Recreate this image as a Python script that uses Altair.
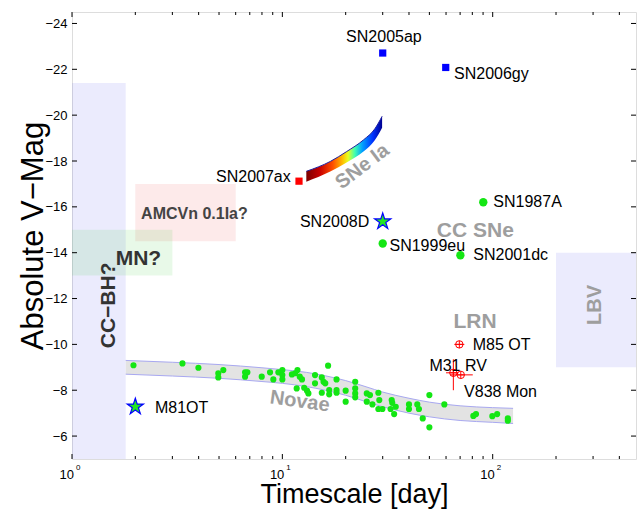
import altair as alt
import pandas as pd

# ---------------- data ----------------
# Novae (timescale [day], absolute V mag)
nova_t = [1.96, 3.35, 3.99, 4.96, 5.24, 4.96, 6.65, 6.82, 6.65, 7.98,
          8.74, 9.06, 9.57, 10.0, 10.0, 10.0, 11.1, 11.5, 11.8, 12.1,
          12.4, 11.7, 12.7, 13.1, 13.3, 14.3, 14.3, 15.4, 15.7, 16.0,
          15.4, 16.5, 16.7, 16.7, 18.1, 18.1, 18.1, 20.0, 20.0, 22.2,
          22.2, 22.2, 22.2, 25.2, 25.2, 26.1, 26.8, 28.6, 28.9, 28.6,
          29.9, 33.1, 33.3, 34.6, 32.7, 34.0, 40.0, 40.0, 43.8, 44.6,
          46.5, 50.0, 50.0, 58.9, 80.9, 83.3, 99.6, 105.0, 118.0, 118.0]
nova_m = [-9.09, -9.17, -8.98, -8.74, -8.88, -8.56, -8.78, -8.78, -8.59, -8.59,
          -8.78, -8.47, -8.78, -8.88, -8.66, -8.47, -8.69, -8.74, -8.88, -8.59,
          -8.47, -8.08, -8.11, -7.98, -7.86, -8.66, -8.30, -8.56, -8.37, -8.30,
          -7.89, -9.07, -8.01, -7.82, -8.47, -8.01, -7.89, -7.98, -7.50, -8.37,
          -8.08, -7.86, -7.69, -7.86, -7.50, -7.79, -7.38, -7.89, -7.57, -7.18,
          -7.18, -7.57, -7.45, -7.28, -7.18, -6.96, -7.38, -7.18, -7.38, -7.18,
          -6.77, -7.79, -6.38, -7.38, -6.88, -6.96, -6.87, -6.96, -6.77, -6.67]

# Novae band
band_t = [1.8, 3, 5, 8, 10, 13, 16, 20, 25, 30, 40, 50, 70, 100, 125]
band_up = [-9.30, -9.22, -9.12, -8.98, -8.90, -8.78, -8.63, -8.42, -8.15, -7.92,
           -7.65, -7.48, -7.32, -7.24, -7.21]
band_lo = [-8.70, -8.62, -8.52, -8.38, -8.30, -8.16, -8.00, -7.78, -7.50, -7.28,
           -7.00, -6.84, -6.68, -6.60, -6.55]

# SNe Ia band
ia_t = [13.0, 16.9, 20.2, 24.3, 27.5, 29.8]
ia_up = [-17.55, -17.98, -18.41, -18.92, -19.40, -19.95]
ia_lo = [-17.10, -17.54, -17.93, -18.41, -18.90, -19.45]

# Named objects
obj_names = ["SN2005ap", "SN2006gy", "SN2007ax", "SN2008D", "SN1999eu",
             "SN1987A", "SN2001dc", "M81OT", "M85 OT", "M31 RV", "V838 Mon"]
obj_t = [30.0, 59.8, 12.0, 30.0, 30.0, 90.2, 70.2, 2.0, 69.4, 65.0, 70.5]
obj_m = [-22.71, -22.08, -17.12, -15.36, -14.40, -16.20, -13.89, -7.28,
         -10.00, -8.76, -8.67]
obj_kind = ["sq_blue", "sq_blue", "sq_red", "star", "dot", "dot", "dot",
            "star", "lrn", "lrn", "lrn"]
label_t = [30.4, 65.5, 10.96, 25.9, 32.3, 100.7, 80.9, 2.48, 80.3, 50.0, 73.1]
label_m = [-23.39, -21.80, -17.30, -15.36, -14.28, -16.19, -13.89, -7.23,
           -9.97, -9.07, -7.93]
label_side = ["center", "left", "right", "right", "left", "left", "left",
              "left", "left", "left", "left"]

# error bars of luminous red novae
err_names = ["M85 OT", "M31 RV", "V838 Mon"]
err_m = [-10.00, -8.76, -8.67]
err_t = [69.4, 65.0, 70.5]
err_t_lo = [65.7, 60.0, 62.7]
err_t_hi = [73.3, 68.7, 80.4]
err_m_lo = [-10.00, -9.35, -8.67]
err_m_hi = [-10.00, -8.00, -8.67]

# Shaded regions
region_names = ["CC−BH?", "AMCVn 0.1Ia?", "MN?", "LBV"]
region_t0 = [1.0, 2.0, 1.0, 200.0]
region_t1 = [1.8, 6.0, 3.0, 480.0]
region_m0 = [-21.4, -17.0, -15.0, -14.0]
region_m1 = [-5.0, -14.5, -13.0, -9.0]

# Annotations
ann_text = ["SNe Ia", "CC SNe", "Novae", "LRN", "LBV", "CC−BH?", "MN?", "AMCVn 0.1Ia?"]
ann_t = [24.0, 82.7, 12.1, 82.4, 306.0, 1.50, 2.07, 3.82]
ann_m = [-17.76, -14.96, -7.51, -10.99, -11.72, -11.70, -13.73, -15.68]

# Axis ticks
x_major = [1, 10, 100]
x_exp = ["0", "1", "2"]
x_minor = [2, 3, 4, 5, 6, 7, 8, 9, 20, 30, 40, 50, 60, 70, 80, 90, 200, 300, 400]
y_ticks = [-24, -22, -20, -18, -16, -14, -12, -10, -8, -6]

# ---------------- chart ----------------
W, H = 564, 447
FONT = "Liberation Sans"
STAR = ("M0,-1L0.225,-0.309L0.951,-0.309L0.363,0.118L0.588,0.809L0,0.382"
        "L-0.588,0.809L-0.363,0.118L-0.951,-0.309L-0.225,-0.309Z")
xs = alt.Scale(type="log", domain=[1, 480], nice=False)
ys = alt.Scale(domain=[-5, -24.5], nice=False, zero=False)

XAX = alt.Axis(labels=False, ticks=False, domain=False, grid=False,
               title="Timescale [day]", titleFont=FONT, titleFontSize=27,
               titleFontWeight="normal", titleColor="#000",
               titleBaseline="alphabetic", titlePadding=43)
YAX = alt.Axis(values=y_ticks, ticks=False, domain=False, grid=False,
               labelFontSize=13, labelPadding=5, labelFont=FONT,
               labelColor="#000", title="Absolute V−Mag",
               titleFont=FONT, titleFontSize=31, titleFontWeight="normal",
               titleColor="#000", titleBaseline="alphabetic", titlePadding=2)


def X(f):
    return alt.X(f, type="quantitative", scale=xs, axis=XAX)


def Y(f):
    return alt.Y(f, type="quantitative", scale=ys, axis=YAX)


reg_df = pd.DataFrame({"name": region_names, "t0": region_t0, "t1": region_t1,
                       "m0": region_m0, "m1": region_m1})
regions = alt.Chart(reg_df).mark_rect(opacity=0.12).encode(
    x=X("t0"), x2="t1:Q", y=Y("m0"), y2="m1:Q",
    color=alt.Color("name:N", legend=None,
                    scale=alt.Scale(domain=region_names,
                                    range=["#5a5af0", "#f05050", "#40d040", "#5a5af0"])),
)

bdf = pd.DataFrame({"t": band_t, "up": band_up, "lo": band_lo})
nova_band = alt.Chart(bdf).mark_area(color="#e3e3e3", interpolate="monotone").encode(
    x=X("t"), y=Y("up"), y2="lo")
nova_edge_u = alt.Chart(bdf).mark_line(color="#a8a8f0", strokeWidth=1,
                                       interpolate="monotone").encode(x=X("t"), y=Y("up"))
nova_edge_l = alt.Chart(bdf).mark_line(color="#a8a8f0", strokeWidth=1,
                                       interpolate="monotone").encode(x=X("t"), y=Y("lo"))

idf = pd.DataFrame({"t": ia_t, "up": ia_up, "lo": ia_lo})
grad = alt.Gradient(
    gradient="linear", x1=0, x2=1, y1=0, y2=0,
    stops=[alt.GradientStop(color="#7a0000", offset=0),
           alt.GradientStop(color="#c80000", offset=0.18),
           alt.GradientStop(color="#ff5000", offset=0.35),
           alt.GradientStop(color="#ffc000", offset=0.48),
           alt.GradientStop(color="#e8ff20", offset=0.55),
           alt.GradientStop(color="#40ffb0", offset=0.64),
           alt.GradientStop(color="#00a0ff", offset=0.74),
           alt.GradientStop(color="#0030ff", offset=0.88),
           alt.GradientStop(color="#000090", offset=1)])
ia_band = alt.Chart(idf).mark_area(color=grad, interpolate="monotone").encode(
    x=X("t"), y=Y("up"), y2="lo")
ia_edge = alt.Chart(idf).mark_line(color="#2020a0", strokeWidth=1,
                                   interpolate="monotone").encode(x=X("t"), y=Y("up"))

ndf = pd.DataFrame({"t": nova_t, "m": nova_m})
novae = alt.Chart(ndf).mark_point(shape="circle", filled=True, color="#14e614",
                                  size=38, opacity=1).encode(x=X("t"), y=Y("m"))

odf = pd.DataFrame({"name": obj_names, "t": obj_t, "m": obj_m, "kind": obj_kind,
                    "lt": label_t, "lm": label_m, "side": label_side})

sq_blue = alt.Chart(odf).transform_filter(alt.datum.kind == "sq_blue").mark_point(
    shape="square", filled=True, color="#0000ff", size=52, opacity=1).encode(
    x=X("t"), y=Y("m"))
sq_red = alt.Chart(odf).transform_filter(alt.datum.kind == "sq_red").mark_point(
    shape="square", filled=True, color="#ff0000", size=52, opacity=1).encode(
    x=X("t"), y=Y("m"))
dots = alt.Chart(odf).transform_filter(alt.datum.kind == "dot").mark_point(
    shape="circle", filled=True, color="#14e614", size=70, opacity=1).encode(
    x=X("t"), y=Y("m"))
stars = alt.Chart(odf).transform_filter(alt.datum.kind == "star").mark_point(
    shape=STAR, filled=True, fill="#22e622", stroke="#0000ff", strokeWidth=1.2,
    size=290, opacity=1).encode(x=X("t"), y=Y("m"))

edf = pd.DataFrame({"name": err_names, "t": err_t, "m": err_m, "t0": err_t_lo,
                    "t1": err_t_hi, "m0": err_m_lo, "m1": err_m_hi})
err_h = alt.Chart(edf).mark_rule(color="#ff0000", strokeWidth=1).encode(
    x=X("t0"), x2="t1:Q", y=Y("m"))
err_v = alt.Chart(edf).mark_rule(color="#ff0000", strokeWidth=1).encode(
    x=X("t"), y=Y("m0"), y2="m1:Q")
lrn_circ = alt.Chart(edf).mark_point(shape="circle", filled=False, color="#ff0000",
                                     size=55, strokeWidth=1, opacity=1).encode(
    x=X("t"), y=Y("m"))
lrn_cross = alt.Chart(edf).mark_point(shape="M-1,0L1,0M0,-1L0,1", filled=False,
                                      color="#ff0000", size=55, strokeWidth=1,
                                      opacity=1).encode(x=X("t"), y=Y("m"))

labels = []
for side in ["left", "right", "center"]:
    labels.append(
        alt.Chart(odf).transform_filter(alt.datum.side == side).mark_text(
            align=side, baseline="middle", font=FONT, fontSize=16, color="#000"
        ).encode(x=X("lt"), y=Y("lm"), text="name:N"))

adf = pd.DataFrame({"label": ann_text, "t": ann_t, "m": ann_m})
ann_style = {
    "SNe Ia": dict(angle=323, fontSize=20, color="#9e9e9e"),
    "CC SNe": dict(angle=0, fontSize=21, color="#9e9e9e"),
    "Novae": dict(angle=8, fontSize=20, color="#9e9e9e"),
    "LRN": dict(angle=0, fontSize=21, color="#9e9e9e"),
    "LBV": dict(angle=270, fontSize=20, color="#9e9e9e"),
    "CC−BH?": dict(angle=270, fontSize=21, color="#333333"),
    "MN?": dict(angle=0, fontSize=21, color="#333333"),
    "AMCVn 0.1Ia?": dict(angle=0, fontSize=16, color="#444444"),
}
anns = []
for name, st in ann_style.items():
    anns.append(
        alt.Chart(adf).transform_filter(alt.datum.label == name).mark_text(
            align="center", baseline="middle", font=FONT, fontWeight="bold", **st
        ).encode(x=X("t"), y=Y("m"), text="label:N"))

# ticks (inward, on all four sides)
maj_df = pd.DataFrame({"t": x_major, "e": x_exp})
min_df = pd.DataFrame({"t": x_minor})
yt_df = pd.DataFrame({"m": y_ticks})
tk = dict(color="#000", strokeWidth=1)
ticks = [
    alt.Chart(maj_df).mark_rule(**tk).encode(x=X("t"), y=alt.value(H), y2=alt.value(H - 5)),
    alt.Chart(maj_df).mark_rule(**tk).encode(x=X("t"), y=alt.value(0), y2=alt.value(5)),
    alt.Chart(min_df).mark_rule(**tk).encode(x=X("t"), y=alt.value(H), y2=alt.value(H - 3)),
    alt.Chart(min_df).mark_rule(**tk).encode(x=X("t"), y=alt.value(0), y2=alt.value(3)),
    alt.Chart(yt_df).mark_rule(**tk).encode(y=Y("m"), x=alt.value(0), x2=alt.value(5)),
    alt.Chart(yt_df).mark_rule(**tk).encode(y=Y("m"), x=alt.value(W), x2=alt.value(W - 5)),
]
xlab_base = alt.Chart(maj_df).mark_text(
    align="right", baseline="alphabetic", font=FONT, fontSize=13, color="#000", dx=2
).encode(x=X("t"), y=alt.value(H + 20), text=alt.value("10"))
xlab_exp = alt.Chart(maj_df).mark_text(
    align="left", baseline="alphabetic", font=FONT, fontSize=8, color="#000", dx=4
).encode(x=X("t"), y=alt.value(H + 11), text="e:N")

chart = alt.layer(
    regions, nova_band, nova_edge_u, nova_edge_l, ia_band, ia_edge, novae,
    *anns, sq_blue, sq_red, dots, stars, err_h, err_v, lrn_circ, lrn_cross,
    *labels, *ticks, xlab_base, xlab_exp
).properties(
    width=W, height=H,
    autosize=alt.AutoSizeParams(type="none"),
    padding={"left": 72, "top": 12, "right": 8, "bottom": 53},
).configure_view(stroke="#000", strokeWidth=1).configure(font=FONT)

chart.save("out.html", embed_options={"renderer": "svg", "actions": False})
